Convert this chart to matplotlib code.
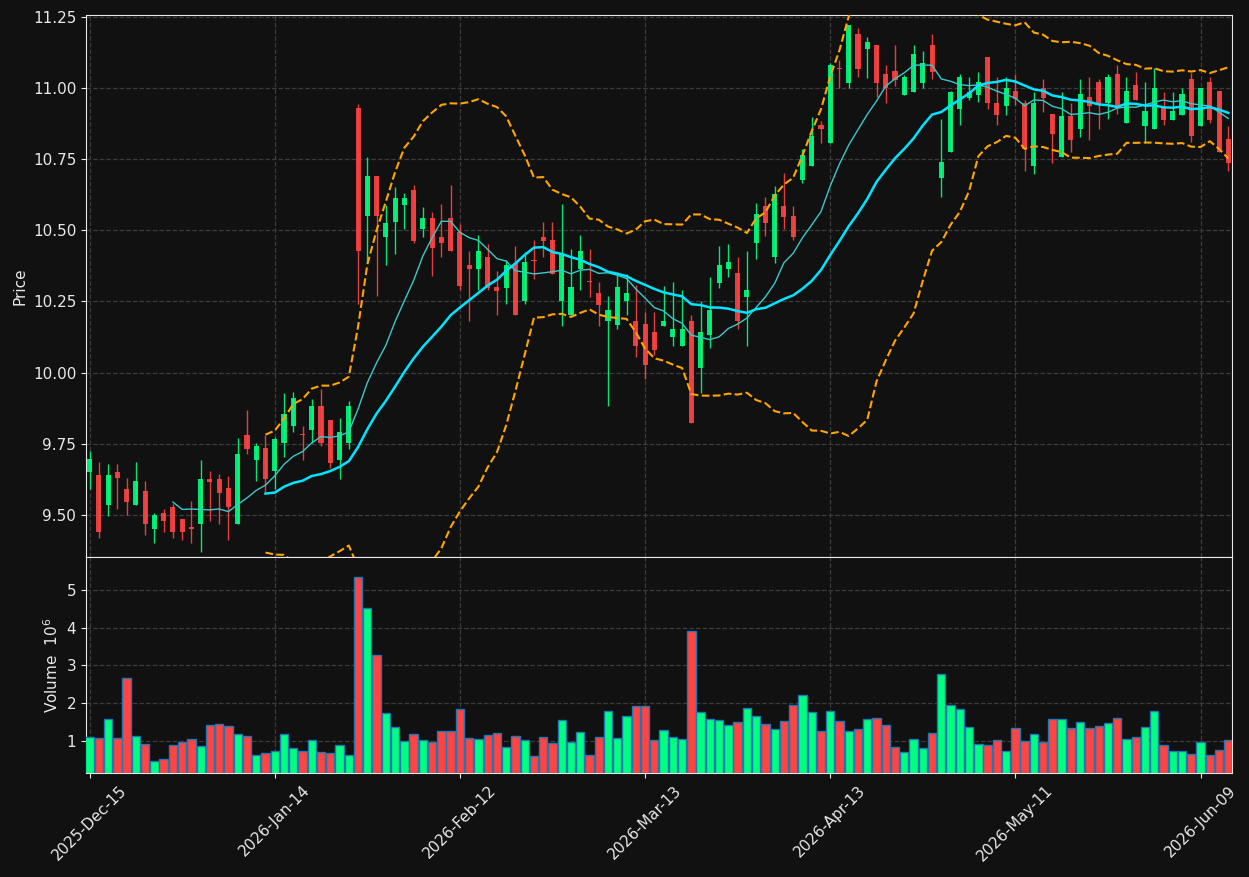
import matplotlib
matplotlib.use('Agg')
import matplotlib.pyplot as plt
import numpy as np
import pandas as pd

# trading days (NYSE calendar)
holidays = ['2025-12-25', '2026-01-01', '2026-01-19', '2026-02-16', '2026-04-03', '2026-05-25']
dates = pd.bdate_range(start='2025-12-15', periods=124, freq='C', holidays=holidays)

opens = [9.650, 9.641, 9.534, 9.652, 9.592, 9.534, 9.585, 9.450, 9.507, 9.526,
         9.487, 9.459, 9.467, 9.627, 9.627, 9.596, 9.467, 9.782, 9.692, 9.734,
         9.654, 9.751, 9.811, 9.782, 9.800, 9.881, 9.832, 9.693, 9.751, 10.930,
         10.552, 10.692, 10.475, 10.531, 10.590, 10.642, 10.504, 10.543, 10.476, 10.543,
         10.496, 10.378, 10.364, 10.405, 10.300, 10.299, 10.386, 10.250, 10.395, 10.476,
         10.465, 10.250, 10.201, 10.363, 10.318, 10.280, 10.180, 10.169, 10.250, 10.183,
         10.172, 10.143, 10.163, 10.124, 10.093, 10.183, 10.015, 10.131, 10.316, 10.364,
         10.349, 10.267, 10.456, 10.587, 10.407, 10.587, 10.549, 10.676, 10.726, 10.869,
         10.807, 11.070, 11.019, 11.190, 11.137, 11.152, 11.049, 11.060, 10.975, 10.987,
         11.019, 11.152, 10.685, 10.776, 10.926, 10.966, 10.975, 11.109, 10.949, 10.938,
         10.989, 10.949, 10.726, 10.999, 10.908, 10.758, 10.901, 10.858, 10.968, 11.022,
         10.948, 11.049, 10.879, 11.011, 10.867, 10.858, 10.931, 10.888, 10.905, 11.032,
         10.867, 11.021, 10.989, 10.820]
highs = [9.725, 9.686, 9.679, 9.679, 9.630, 9.686, 9.620, 9.507, 9.519, 9.539,
         9.487, 9.549, 9.694, 9.655, 9.644, 9.636, 9.770, 9.868, 9.752, 9.780,
         9.773, 9.929, 9.932, 9.814, 9.908, 9.941, 9.832, 9.841, 9.902, 10.944,
         10.757, 10.692, 10.590, 10.652, 10.631, 10.660, 10.582, 10.564, 10.592, 10.660,
         10.523, 10.427, 10.483, 10.453, 10.357, 10.395, 10.444, 10.424, 10.465, 10.531,
         10.531, 10.591, 10.436, 10.483, 10.436, 10.317, 10.270, 10.345, 10.345, 10.308,
         10.212, 10.212, 10.306, 10.317, 10.291, 10.203, 10.250, 10.337, 10.444, 10.453,
         10.405, 10.427, 10.597, 10.619, 10.657, 10.700, 10.587, 10.787, 10.899, 10.884,
         11.087, 11.099, 11.222, 11.210, 11.179, 11.152, 11.081, 11.152, 11.046, 11.152,
         11.130, 11.190, 10.890, 10.989, 11.048, 11.038, 11.058, 11.109, 11.038, 11.038,
         11.048, 10.958, 10.987, 11.032, 10.908, 10.987, 10.949, 11.031, 11.038, 11.031,
         11.048, 11.081, 11.038, 11.058, 11.020, 11.069, 10.987, 10.987, 10.999, 11.052,
         10.999, 11.038, 10.989, 10.867]
lows = [9.591, 9.419, 9.495, 9.522, 9.499, 9.534, 9.430, 9.402, 9.440, 9.419,
        9.412, 9.402, 9.370, 9.479, 9.468, 9.412, 9.467, 9.715, 9.618, 9.578,
        9.592, 9.704, 9.791, 9.693, 9.753, 9.742, 9.666, 9.627, 9.732, 10.241,
        10.385, 10.268, 10.378, 10.417, 10.504, 10.455, 10.476, 10.338, 10.406, 10.426,
        10.291, 10.180, 10.291, 10.291, 10.201, 10.241, 10.201, 10.241, 10.329, 10.405,
        10.348, 10.163, 10.201, 10.291, 10.267, 10.163, 9.881, 10.152, 10.201, 10.056,
        9.979, 10.062, 10.163, 10.093, 10.093, 9.822, 9.930, 10.088, 10.299, 10.337,
        10.152, 10.093, 10.398, 10.479, 10.384, 10.506, 10.467, 10.667, 10.726, 10.807,
        10.807, 10.999, 10.999, 11.038, 11.036, 10.969, 10.949, 11.008, 10.975, 10.987,
        10.999, 11.031, 10.617, 10.776, 10.870, 10.958, 10.952, 10.926, 10.870, 10.907,
        10.941, 10.707, 10.699, 10.917, 10.738, 10.758, 10.776, 10.828, 10.819, 10.858,
        10.890, 10.908, 10.879, 10.958, 10.808, 10.858, 10.870, 10.888, 10.905, 10.811,
        10.867, 10.879, 10.776, 10.707]
closes = [9.697, 9.439, 9.641, 9.628, 9.544, 9.620, 9.467, 9.498, 9.478, 9.439,
          9.439, 9.450, 9.627, 9.614, 9.576, 9.527, 9.715, 9.730, 9.743, 9.625,
          9.765, 9.853, 9.911, 9.779, 9.881, 9.751, 9.681, 9.791, 9.881, 10.426,
          10.692, 10.552, 10.525, 10.613, 10.613, 10.463, 10.543, 10.437, 10.454, 10.426,
          10.306, 10.364, 10.427, 10.299, 10.288, 10.378, 10.201, 10.388, 10.392, 10.462,
          10.348, 10.416, 10.301, 10.427, 10.317, 10.238, 10.221, 10.301, 10.280, 10.093,
          10.027, 10.081, 10.183, 10.155, 10.155, 9.822, 10.143, 10.221, 10.378, 10.388,
          10.180, 10.291, 10.559, 10.526, 10.628, 10.547, 10.477, 10.764, 10.831, 10.855,
          11.081, 11.068, 11.222, 11.067, 11.161, 11.019, 10.999, 11.028, 11.040, 11.120,
          11.090, 11.058, 10.740, 10.987, 11.040, 10.987, 11.021, 10.948, 10.905, 11.001,
          10.961, 10.787, 10.949, 10.966, 10.837, 10.901, 10.817, 10.978, 10.938, 10.940,
          11.039, 10.931, 10.989, 10.958, 10.919, 10.999, 10.888, 10.919, 10.979, 10.830,
          10.999, 10.888, 10.776, 10.737]
# volume in millions
volumes = [1.106, 1.08, 1.583, 1.08, 2.669, 1.132, 0.92, 0.47, 0.505, 0.894,
           0.974, 1.053, 0.868, 1.424, 1.45, 1.397, 1.185, 1.132, 0.629, 0.682,
           0.735, 1.185, 0.815, 0.735, 1.026, 0.709, 0.682, 0.894, 0.629, 5.344,
           4.523, 3.278, 1.742, 1.371, 1.0, 1.185, 1.026, 0.974, 1.265, 1.265,
           1.848, 1.08, 1.053, 1.159, 1.212, 0.841, 1.132, 1.026, 0.603, 1.106,
           0.947, 1.556, 0.974, 1.238, 0.629, 1.106, 1.795, 1.08, 1.662, 1.927,
           1.927, 1.026, 1.291, 1.106, 1.053, 3.914, 1.768, 1.583, 1.556, 1.424,
           1.503, 1.874, 1.662, 1.45, 1.318, 1.53, 1.954, 2.219, 1.768, 1.265,
           1.795, 1.53, 1.265, 1.318, 1.583, 1.609, 1.424, 0.841, 0.709, 1.053,
           0.815, 1.212, 2.775, 1.954, 1.848, 1.371, 0.92, 0.894, 1.026, 0.735,
           1.344, 1.0, 1.185, 0.974, 1.583, 1.583, 1.344, 1.503, 1.344, 1.397,
           1.477, 1.609, 1.053, 1.106, 1.371, 1.795, 0.894, 0.735, 0.735, 0.656,
           0.974, 0.629, 0.762, 1.026]

bg = '#111111'
up_c = '#00ff80'
down_c = '#ff4444'

o = np.array(opens)
h = np.array(highs)
l = np.array(lows)
c = np.array(closes)
v = np.array(volumes)
x = np.arange(len(c))
is_up = c >= o
cols = np.where(is_up, up_c, down_c)

cs = pd.Series(c)
sma10 = cs.rolling(10).mean()
sma20 = cs.rolling(20).mean()
std20 = cs.rolling(20).std()
bb_up = sma20 + 2 * std20
bb_lo = sma20 - 2 * std20

fig = plt.figure(figsize=(12.49, 8.77), dpi=100, facecolor=bg)
ax = fig.add_axes([0.0689, 0.3649, 0.9175, 0.618])
ax2 = fig.add_axes([0.0689, 0.1186, 0.9175, 0.2463], sharex=ax)

for a in (ax, ax2):
    a.set_facecolor(bg)
    a.grid(True, linestyle='--', color='#3c3c3c', linewidth=0.9)
    a.set_axisbelow(True)
    for s in a.spines.values():
        s.set_color('#e8e8e8')
    a.tick_params(colors='#e8e8e8', labelsize=11)

# candles
ax.vlines(x, l, h, colors=cols, linewidth=1.0, alpha=0.9, zorder=2)
body = np.maximum(np.abs(c - o), 0.004)
ax.bar(x, body, bottom=np.minimum(o, c), width=0.55, color=cols, alpha=0.9,
       linewidth=0, zorder=3)

ax.plot(x, sma10, color='#3cc8c8', linewidth=1.0, zorder=4)
ax.plot(x, sma20, color='#00e5ff', linewidth=1.8, zorder=4)
ax.plot(x, bb_up, color='#ffa500', linestyle='--', linewidth=1.5, zorder=4)
ax.plot(x, bb_lo, color='#ffa500', linestyle='--', linewidth=1.5, zorder=4)

ax.set_ylim(9.352, 11.257)
ax.set_yticks(np.arange(9.5, 11.26, 0.25))
ax.yaxis.set_major_formatter(matplotlib.ticker.FormatStrFormatter('%.2f'))
ax.set_ylabel('Price', color='#e8e8e8', fontsize=11)
plt.setp(ax.get_xticklabels(), visible=False)

# volume
ax2.bar(x, v, width=0.9, color=cols, edgecolor='#1f77b4', linewidth=1.0, zorder=3)
ax2.set_ylim(0.3 * v.min(), 1.1 * v.max())
ax2.set_yticks([1, 2, 3, 4, 5])
ax2.set_ylabel('Volume  $10^{6}$', color='#e8e8e8', fontsize=11)

ax2.set_xlim(-0.38, 123.4)
ticks = list(range(0, 124, 20))
ax2.set_xticks(ticks)
ax2.set_xticklabels([dates[i].strftime('%Y-%b-%d') for i in ticks], rotation=45, ha='center')

fig.savefig('out.png', dpi=100, facecolor=bg)
